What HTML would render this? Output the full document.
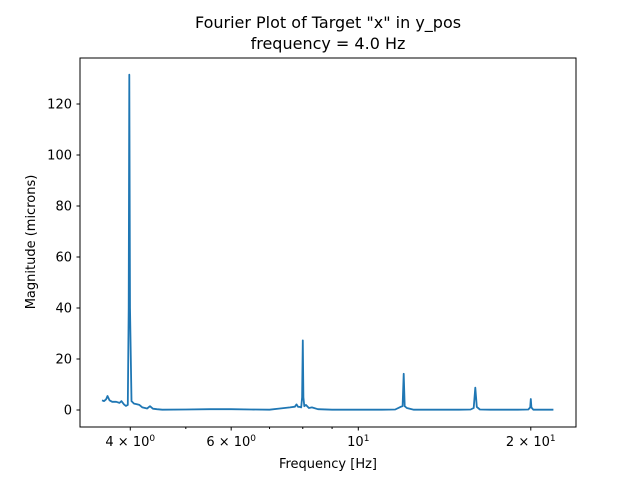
<!DOCTYPE html>
<html><head><meta charset="utf-8"><style>
body{margin:0;background:#fff;font-family:"Liberation Sans","DejaVu Sans",sans-serif}
svg text{font-family:"DejaVu Sans","Liberation Sans",sans-serif;fill:#000}
</style></head><body>
<svg id="chart" width="640" height="480" viewBox="0 0 640 480" xmlns="http://www.w3.org/2000/svg">
<rect width="640" height="480" fill="#fff"/>
<text x="328" y="28" font-size="16" text-anchor="middle">Fourier Plot of Target "x" in y_pos</text>
<text x="328" y="49" font-size="16" text-anchor="middle">frequency = 4.0 Hz</text>
<g id="plot"></g>
<rect x="80" y="58" width="496" height="369" fill="none" stroke="#000" stroke-width="1"/>
<text x="328" y="468" font-size="13" text-anchor="middle">Frequency [Hz]</text>
<text transform="translate(35,242) rotate(-90)" font-size="13" text-anchor="middle">Magnitude (microns)</text>
</svg>
<script>
const freqs=[3.57,3.6,3.63,3.65,3.68,3.72,3.78,3.83,3.86,3.9,3.93,3.96,3.975,3.985,3.995,4.02,4.06,4.1,4.15,4.2,4.28,4.33,4.38,4.45,4.55,5,5.5,6,6.5,7,7.3,7.6,7.75,7.8,7.85,7.9,7.95,7.98,8.0,8.02,8.05,8.1,8.2,8.3,8.5,9,10,11,11.6,11.85,11.95,12.0,12.05,12.15,12.5,13,14,15,15.7,15.9,16.0,16.1,16.3,17,18,19,19.8,19.95,20.0,20.05,20.2,21,21.9];
const mags=[3.8,3.5,4.2,5.5,3.8,3.2,3.2,2.8,3.5,2.2,1.6,2.0,40,131.5,40,3.5,2.5,2.3,2.0,1.0,0.6,1.5,0.5,0.3,0.1,0.2,0.3,0.3,0.2,0.1,0.6,1.0,1.3,2.2,1.2,1.2,1.0,5,27.3,5,1.5,2.0,0.8,1.0,0.3,0.1,0.1,0.1,0.2,1.2,1.5,14.2,1.5,0.8,0.1,0.1,0.1,0.1,0.2,0.8,8.8,1.2,0.2,0.1,0.1,0.1,0.2,1.0,4.3,1.0,0.1,0.1,0.1];
const yTicks=[0,20,40,60,80,100,120];
const xMajor=[4,6,10,20];
const xMajorLabels=[["4","0"],["6","0"],["10","1"],["2","1"]];
const xMinor=[5,7,8,9];
function X(f){return 358.3+573*Math.log10(f/10);}
function Y(v){return 410-2.55*v;}
const NS="http://www.w3.org/2000/svg";
const svg=document.getElementById('chart');
const g=document.getElementById('plot');
function mk(t,a,p){const e=document.createElementNS(NS,t);for(const k in a)e.setAttribute(k,a[k]);(p||svg).appendChild(e);return e;}
yTicks.forEach(v=>{
  const l=mk('line',{x1:76.5,x2:80,y1:Y(v),y2:Y(v),stroke:'#000'});
  
  
  const t=mk('text',{x:72,y:Y(v)+4.5,'font-size':13,'text-anchor':'end'});
  
  
  t.textContent=v;
});
xMajor.forEach((f,i)=>{
  const l=mk('line',{x1:X(f),x2:X(f),y1:427,y2:430.5,stroke:'#000'});
  
  
  const t=mk('text',{x:X(f),y:446,'font-size':13,'text-anchor':'middle'});
  
  
  const [m,e]=xMajorLabels[i];
  t.innerHTML=(m==="10"?"10":m+" \u00d7 10")+'<tspan dy="-5" font-size="9">'+e+'</tspan>';
});
xMinor.forEach(f=>{
  const l=mk('line',{x1:X(f),x2:X(f),y1:427,y2:429,stroke:'#000'});
  
  
});
const d=freqs.map((f,i)=>(i?'L':'M')+X(f).toFixed(1)+' '+Y(mags[i]).toFixed(1)).join(' ');
const p=mk('path',{d:d,fill:'none',stroke:'#1f77b4','stroke-width':1.8,'stroke-linejoin':'round'},g);


</script>
</body></html>
